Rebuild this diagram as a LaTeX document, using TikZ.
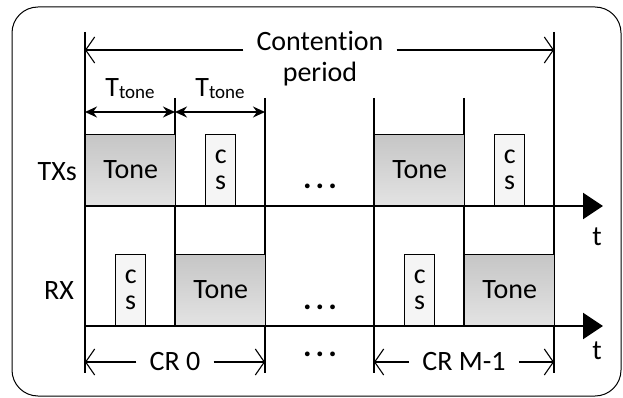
\documentclass[tikz,border=0pt]{standalone}
\usepackage{fontspec}
\setmainfont{Carlito}[Ligatures=NoCommon]
\usetikzlibrary{arrows.meta}

\newcommand{\ttone}{T\raisebox{-2pt}{\fontsize{19}{19}\selectfont tone}}
\newcommand{\threedots}{.\hspace{4pt}.\hspace{4pt}.}

\begin{document}
\begin{tikzpicture}[x=1pt,y=-1pt,
    txt/.style={font=\fontsize{28}{26}\selectfont, inner sep=0pt},
    dots/.style={font=\bfseries\fontsize{32}{26}\selectfont, inner sep=0pt, anchor=base},
    tone/.style={txt, draw, line width=1.4pt, top color=gray!45, bottom color=gray!22,
      minimum width=90pt, minimum height=71pt, anchor=south west},
    csbox/.style={txt, draw, line width=1.4pt, fill=gray!8, align=center,
      minimum width=30pt, minimum height=71pt, anchor=south west},
    bound/.style={line width=1.4pt},
    axis/.style={line width=2.4pt, -{Triangle[length=20pt,width=26pt]}},
    dim/.style={line width=1.4pt, {Stealth[length=12pt,width=11pt]}-{Stealth[length=12pt,width=11pt]}},
    span/.style={line width=1.1pt, -{Straight Barb[length=9pt,width=26pt]}}]
  \useasboundingbox (0,0) rectangle (623,398);
  \draw[line width=1pt, rounded corners=26pt] (12,7) rectangle (621,396);

  % slot boundaries
  \draw[bound] (85,32) -- (85,373);
  \draw[bound] (175,98) -- (175,326);
  \draw[bound] (265,98) -- (265,373);
  \draw[bound] (374,98) -- (374,373);
  \draw[bound] (464,98) -- (464,326);
  \draw[bound] (554,32) -- (554,373);

  % contention period
  \node[txt] (cont) at (320,41) {Contention};
  \node[txt, anchor=base] (per) at (320,82) {period};
  \coordinate (cpL) at (85,50);
  \coordinate (cpR) at (554,50);
  \draw[span] ([xshift=-13pt]cont.west |- cpL) -- (cpL);
  \draw[span] ([xshift=13pt]cont.east |- cpR) -- (cpR);

  % tone durations
  \coordinate (d0) at (85,112);
  \coordinate (d1) at (175,112);
  \coordinate (d2) at (265,112);
  \draw[dim] (d0) -- (d1) node[txt, midway, above=13pt] (tt0) {\ttone};
  \draw[dim] (d1) -- (d2) node[txt, midway, above=13pt] (tt1) {\ttone};

  % row labels
  \node[txt, anchor=east] (txs) at (77,172) {TXs};
  \node[txt, anchor=east] (rx) at (74,291) {RX};

  % TX row
  \node[tone] (txA) at (85,206) {Tone};
  \node[csbox] (txcA) at (205,206) {c\\s};
  \node[tone] (txB) at (374,206) {Tone};
  \node[csbox] (txcB) at (494,206) {c\\s};
  \coordinate (tx0) at (85,206);
  \coordinate (tx1) at (603,206);
  \draw[axis] (tx0) -- (tx1);
  \node[txt] (tA) at (597,237) {t};
  \node[dots] (dotsA) at (320,188) {\threedots};

  % RX row
  \node[csbox] (rxcA) at (115,326) {c\\s};
  \node[tone] (rxA) at (175,326) {Tone};
  \node[csbox] (rxcB) at (404,326) {c\\s};
  \node[tone] (rxB) at (464,326) {Tone};
  \coordinate (rx0) at (85,326);
  \coordinate (rx1) at (603,326);
  \draw[axis] (rx0) -- (rx1);
  \node[txt] (tB) at (597,351) {t};
  \node[dots] (dotsB) at (320,309) {\threedots};

  % contention rounds
  \node[txt] (cr0) at (175,362) {CR 0};
  \coordinate (c0L) at (85,362);
  \coordinate (c0R) at (265,362);
  \draw[span] ([xshift=-13pt]cr0.west) -- (c0L);
  \draw[span] ([xshift=13pt]cr0.east) -- (c0R);
  \node[dots] (dotsC) at (320,356) {\threedots};
  \node[txt] (crM) at (464,362) {CR M-1};
  \coordinate (cML) at (374,362);
  \coordinate (cMR) at (554,362);
  \draw[span] ([xshift=-13pt]crM.west) -- (cML);
  \draw[span] ([xshift=13pt]crM.east) -- (cMR);
\end{tikzpicture}
\end{document}
